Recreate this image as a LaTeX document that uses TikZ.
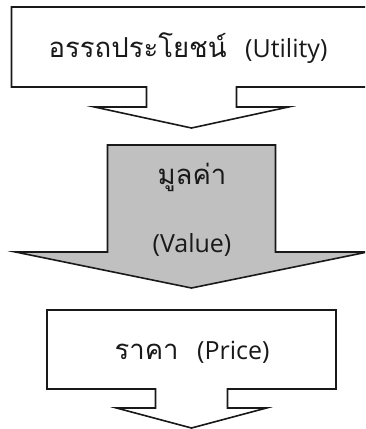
\documentclass[tikz,border=0pt]{standalone}
\usepackage{fontspec}
\newfontfamily\thaifont[Script=Thai,Scale=1.1]{Loma}
\newfontfamily\latinfont{Open Sans}
\definecolor{linegray}{rgb}{0.10, 0.10, 0.10}
\definecolor{valuegray}{rgb}{0.753, 0.753, 0.753}
\tikzset{
  calloutline/.style={draw=linegray, line width=1.6pt, line join=miter},
  labeltext/.style={text=linegray, font=\fontsize{25}{30}\selectfont, inner sep=0pt}
}
% box with a down arrow below it: #2 centre x, #3 top, #4 half box width, #5 box bottom,
% #6 half stem width, #7 stem bottom, #8 half head width, #9 tip
\newcommand{\downcallout}[9][]{%
  \path[calloutline,#1] (#2-#4,#3)--(#2+#4,#3)--(#2+#4,#5)--(#2+#6,#5)--(#2+#6,#7)
    --(#2+#8,#7)--(#2,#9)--(#2-#8,#7)--(#2-#6,#7)--(#2-#6,#5)--(#2-#4,#5)--cycle;}

\begin{document}
\begin{tikzpicture}[x=1pt,y=-1pt]
\clip (0,0) rectangle (365,429);
\useasboundingbox (0,0) rectangle (365,429);

% utility
\downcallout[fill=white]{191.5}{7}{180}{87}{45}{107}{97}{128}
\node[labeltext] (utility) at (188,48) {\thaifont อรรถประโยชน์~~{\latinfont (Utility)}};

% value: arrow only, no box
\downcallout[fill=valuegray]{191.5}{145}{84}{145}{84}{252}{176}{288}
\node[labeltext] (value) at (192,177) {\thaifont มูลค่า};
\node[labeltext] (valueen) at (192,245) {\latinfont (Value)};

% price
\downcallout[fill=white]{191.5}{310}{144.5}{389}{36}{408}{75}{428}
\node[labeltext] (price) at (192,352) {\thaifont ราคา~~{\latinfont (Price)}};
\end{tikzpicture}
\end{document}
